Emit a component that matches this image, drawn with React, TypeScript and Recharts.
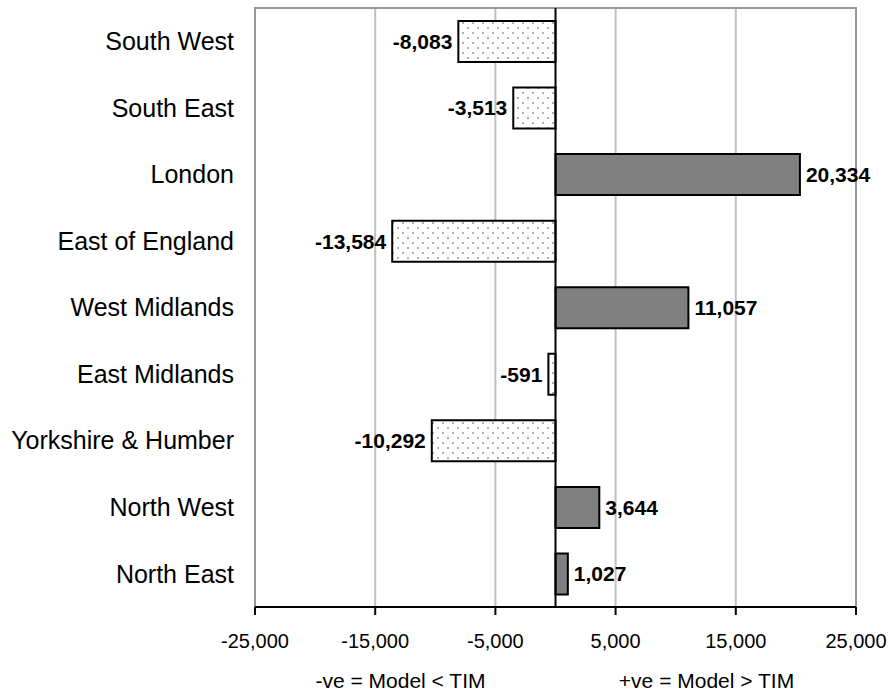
import React from 'react';
import { BarChart, Bar, XAxis, YAxis, CartesianGrid, Cell, LabelList, ReferenceLine, ReferenceArea } from 'recharts';

const regions = [
  'South West',
  'South East',
  'London',
  'East of England',
  'West Midlands',
  'East Midlands',
  'Yorkshire & Humber',
  'North West',
  'North East',
];
const differences = [-8083, -3513, 20334, -13584, 11057, -591, -10292, 3644, 1027];
const xTicks = [-25000, -15000, -5000, 5000, 15000, 25000];

const chartData = regions.map((name, i) => ({ name, value: differences[i] }));

const fmt = (v: number) => v.toLocaleString('en-US');

const FONT = '"Liberation Sans", Arial, sans-serif';

// value label sits outside the end of each bar
const ValueLabel = (props: any) => {
  const { x, y, width, height, value } = props;
  const left = Math.min(x, x + width);
  const right = Math.max(x, x + width);
  const neg = value < 0;
  return (
    <text
      x={neg ? left - 6 : right + 6}
      y={y + height / 2}
      dy="0.35em"
      textAnchor={neg ? 'end' : 'start'}
      fontFamily={FONT}
      fontWeight="bold"
      fontSize={21}
      fill="#000"
    >
      {fmt(value)}
    </text>
  );
};

const noteStyle: React.CSSProperties = {
  position: 'absolute',
  top: 671,
  width: 301,
  height: 20,
  lineHeight: '20px',
  textAlign: 'center',
  fontSize: 21,
  color: '#000',
  whiteSpace: 'nowrap',
};

const App: React.FC = () => {
  return (
    <div style={{ position: 'absolute', left: 0, top: 0, width: 892, height: 692, background: '#fff', fontFamily: FONT }}>
      <BarChart
        width={892}
        height={692}
        data={chartData}
        layout="vertical"
        margin={{ top: 8, right: 36, bottom: 0, left: 0 }}
      >
        <defs>
          <pattern id="dots" width="10" height="10" patternUnits="userSpaceOnUse">
            <rect width="10" height="10" fill="#fff" />
            <rect x="2" y="2" width="2" height="2" fill="#b0b0b0" />
            <rect x="7" y="7" width="2" height="2" fill="#b0b0b0" />
          </pattern>
        </defs>
        <CartesianGrid horizontal={false} stroke="#c0c0c0" strokeWidth={2} />
        <ReferenceArea x1={-25000} x2={25000} fill="none" stroke="#999" strokeWidth={2} ifOverflow="visible" />
        <XAxis
          type="number"
          domain={[-25000, 25000]}
          ticks={xTicks}
          tickFormatter={fmt}
          stroke="#000"
          strokeWidth={2}
          tickSize={8}
          tickMargin={19}
          height={85}
          tick={{ fill: '#000', fontSize: 20, fontFamily: FONT }}
        />
        <YAxis
          type="category"
          dataKey="name"
          width={255}
          axisLine={false}
          tickLine={false}
          tickSize={0}
          tickMargin={21}
          tick={{ fill: '#000', fontSize: 25, fontFamily: FONT }}
        />
        <ReferenceLine x={0} stroke="#000" strokeWidth={2} />
        <Bar dataKey="value" barSize={41} stroke="#000" strokeWidth={2} isAnimationActive={false}>
          {chartData.map((d) => (
            <Cell key={d.name} fill={d.value < 0 ? 'url(#dots)' : '#808080'} />
          ))}
          <LabelList dataKey="value" content={ValueLabel} />
        </Bar>
      </BarChart>
      <div style={{ ...noteStyle, left: 250 }}>-ve = Model &lt; TIM</div>
      <div style={{ ...noteStyle, left: 556 }}>+ve = Model &gt; TIM</div>
    </div>
  );
};

export default App;
